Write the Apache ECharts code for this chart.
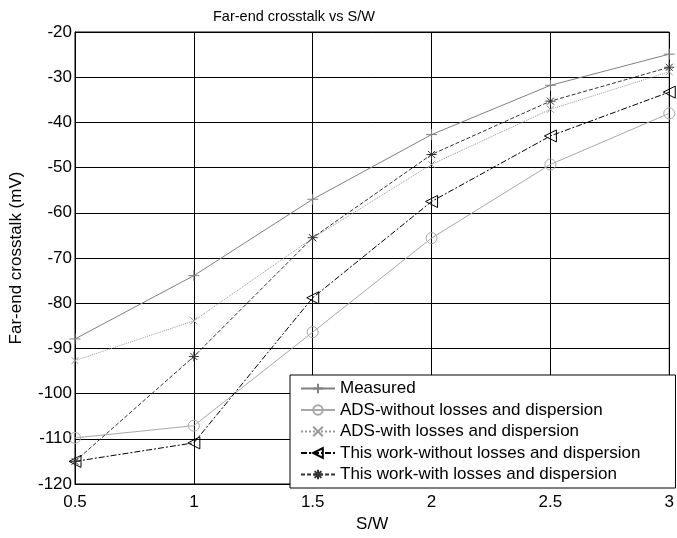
<!DOCTYPE html>
<html>
<head>
<meta charset="utf-8">
<script src="https://cdn.jsdelivr.net/npm/echarts@6/dist/echarts.min.js"></script>
<style>html,body{margin:0;padding:0;background:#fff}#c{width:677px;height:538px}</style>
</head>
<body>
<div id="c"></div>
<script>
var sw = [0.5, 1, 1.5, 2, 2.5, 3];
var measured = [-87.9, -73.9, -57.0, -42.7, -31.8, -24.9];
var adsWithout = [-109.8, -107.1, -86.4, -65.6, -49.3, -38.0];
var adsWith = [-92.7, -83.9, -65.6, -49.3, -37.1, -28.8];
var workWithout = [-115.0, -110.9, -78.8, -57.5, -43.0, -33.3];
var workWith = [-115.0, -91.8, -65.5, -47.1, -35.3, -27.8];
var xTicks = [0.5, 1, 1.5, 2, 2.5, 3];
var yTicks = [-120, -110, -100, -90, -80, -70, -60, -50, -40, -30, -20];

function pts(v) { return sw.map(function (x, i) { return [x, v[i]]; }); }
var FONT = 'Liberation Sans';
var plus = 'path://M0,5L10,5M5,0L5,10';
var cross = 'path://M0,0L10,10M0,10L10,0';
var star = 'path://M0,5L10,5M5,0L5,10M1.5,1.5L8.5,8.5M1.5,8.5L8.5,1.5';
var triLeft = 'path://M0,5L10,0L10,10Z';

function ser(name, data, color, lineType, symbol, size, fill) {
  return {
    name: name, type: 'line', data: pts(data),
    symbol: symbol, symbolSize: size, showSymbol: true,
    lineStyle: { color: color, width: 1, type: lineType },
    itemStyle: { color: fill || 'transparent', borderColor: color, borderWidth: 1 },
    emphasis: { disabled: true }, animation: false
  };
}

var chart = echarts.init(document.getElementById('c'), null, { renderer: 'canvas' });
chart.setOption({
  backgroundColor: '#fff',
  animation: false,
  title: {
    text: 'Far-end crosstalk vs S/W', left: 208, top: 4,
    textStyle: { fontFamily: FONT, fontSize: 14.5, fontWeight: 'normal', color: '#000' }
  },
  grid: { left: 73, right: 4, top: 32, bottom: 50, show: true, borderColor: '#000', borderWidth: 1, backgroundColor: 'transparent' },
  xAxis: {
    type: 'value', min: 0.5, max: 3, interval: 0.5,
    name: 'S/W', nameLocation: 'middle', nameGap: 32,
    nameTextStyle: { fontFamily: FONT, fontSize: 17, color: '#000' },
    axisLine: { lineStyle: { color: '#000', width: 1 } },
    axisTick: { inside: true, length: 5, lineStyle: { color: '#000' } },
    axisLabel: { fontFamily: FONT, fontSize: 17, color: '#000', margin: 10, showMaxLabel: true, showMinLabel: true,
      formatter: function (v) { return String(v); } },
    splitLine: { show: true, lineStyle: { color: '#000', width: 1 } }
  },
  yAxis: {
    type: 'value', min: -120, max: -20, interval: 10,
    name: 'Far-end crosstalk (mV)', nameLocation: 'middle', nameGap: 50,
    nameTextStyle: { fontFamily: FONT, fontSize: 17, color: '#000' },
    axisLine: { show: true, lineStyle: { color: '#000', width: 1 } },
    axisTick: { inside: true, length: 5, lineStyle: { color: '#000' } },
    axisLabel: { fontFamily: FONT, fontSize: 17, color: '#000', margin: 3 },
    splitLine: { show: true, lineStyle: { color: '#000', width: 1 } }
  },
  legend: {
    orient: 'vertical', left: 290, top: 375,
    backgroundColor: '#fff', borderColor: '#000', borderWidth: 1,
    padding: [5, 35, 5, 10], itemGap: 4.5, itemWidth: 34, itemHeight: 12, itemTextGap: 10,
    textStyle: { fontFamily: FONT, fontSize: 17, color: '#000', lineHeight: 17 },
    data: ['Measured', 'ADS-without losses and dispersion', 'ADS-with losses and dispersion',
      'This work-without losses and dispersion', 'This work-with losses and dispersion']
  },
  series: [
    ser('Measured', measured, '#808080', 'solid', plus, 11),
    ser('ADS-without losses and dispersion', adsWithout, '#a8a8a8', 'solid', 'circle', 11),
    ser('ADS-with losses and dispersion', adsWith, '#999999', 'dotted', cross, 7),
    ser('This work-without losses and dispersion', workWithout, '#000000', [6, 2, 2, 2], triLeft, 12),
    ser('This work-with losses and dispersion', workWith, '#333333', [4, 2], star, 10)
  ]
});
</script>
</body>
</html>
